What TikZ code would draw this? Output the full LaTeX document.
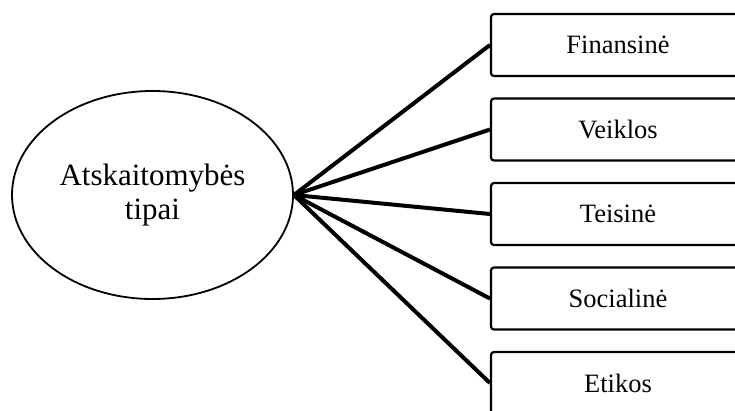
\documentclass[tikz,border=0pt]{standalone}
\usepackage{fontspec}
\setmainfont{Liberation Serif}
\usetikzlibrary{shapes.geometric}
\tikzset{
  tipas/.style={shape=ellipse,draw,line width=1.8pt,minimum width=281pt,minimum height=208pt,inner sep=0pt,align=center,font=\fontsize{31}{34}\selectfont},
  rusis/.style={shape=rectangle,draw,line width=2.2pt,rounded corners=3pt,minimum height=62pt,minimum width=254pt,inner sep=0pt,font=\fontsize{26.5}{30}\selectfont},
  saka/.style={line width=4pt}
}

\begin{document}
\begin{tikzpicture}[x=1pt,y=-1pt]
\clip (0,0) rectangle (735,410);

\path (152.5,195) node [tipas] (tipai) {Atskaitomybės\\tipai};

\path (618,45) node [rusis] (finansine) {Finansinė};

\path (618,129.5) node [rusis] (veiklos) {Veiklos};

\path (618,214) node [rusis] (teisine) {Teisinė};

\path (618,298.5) node [rusis] (socialine) {Socialinė};

\path (618,383) node [rusis] (etikos) {Etikos};

\foreach \r in {finansine,veiklos,teisine,socialine,etikos}
  \draw [saka] (tipai.east) -- (\r.west);

\end{tikzpicture}
\end{document}
